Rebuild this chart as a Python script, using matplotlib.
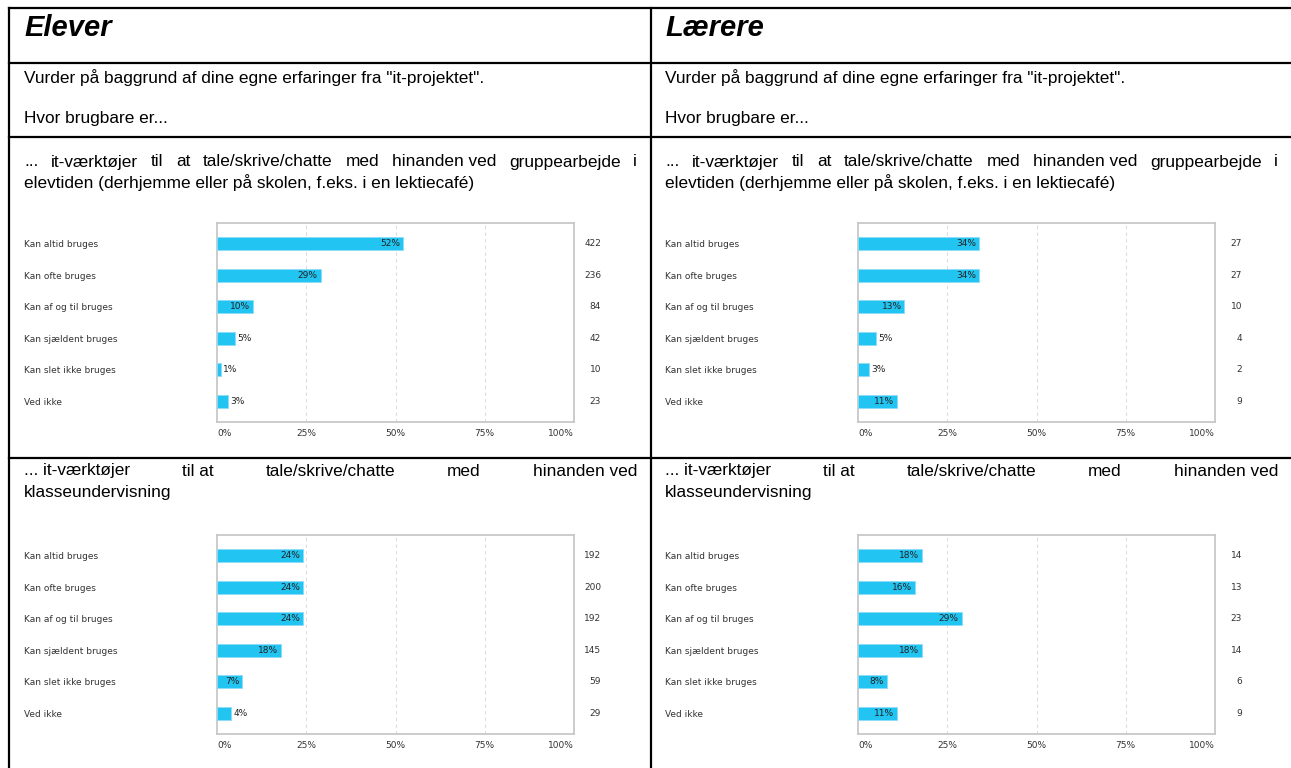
import matplotlib
matplotlib.use("Agg")
import matplotlib.pyplot as plt
from matplotlib.lines import Line2D

# svarkategorier
kategorier = ["Kan altid bruges", "Kan ofte bruges", "Kan af og til bruges",
              "Kan sjældent bruges", "Kan slet ikke bruges", "Ved ikke"]

# gruppearbejde i elevtiden
elever_gruppe_pct = [52, 29, 10, 5, 1, 3]
elever_gruppe_n = [422, 236, 84, 42, 10, 23]
laerere_gruppe_pct = [34, 34, 13, 5, 3, 11]
laerere_gruppe_n = [27, 27, 10, 4, 2, 9]

# klasseundervisning
elever_klasse_pct = [24, 24, 24, 18, 7, 4]
elever_klasse_n = [192, 200, 192, 145, 59, 29]
laerere_klasse_pct = [18, 16, 29, 18, 8, 11]
laerere_klasse_n = [14, 13, 23, 14, 6, 9]

x_ticks = [0, 25, 50, 75, 100]
x_ticklabels = ["0%", "25%", "50%", "75%", "100%"]

W, H = 1291, 768
fig = plt.figure(figsize=(W / 100, H / 100), dpi=100)
fig.patch.set_facecolor("white")

TXT = "Liberation Sans"
FS = 12.4
BAR = "#22c4f2"


def fx(x):
    return x / W


def fy(y):
    return 1 - y / H


def hline(y, x0, x1):
    fig.add_artist(Line2D([fx(x0), fx(x1)], [fy(y), fy(y)], color="black", lw=1.6,
                          transform=fig.transFigure))


def vline(x, y0, y1):
    fig.add_artist(Line2D([fx(x), fx(x)], [fy(y0), fy(y1)], color="black", lw=1.6,
                          transform=fig.transFigure))


def justify(words, x0, x1, y, **kw):
    texts = [fig.text(0, fy(y), w, va="center", ha="left", **kw) for w in words]
    r = fig.canvas.get_renderer()
    widths = [t.get_window_extent(r).width for t in texts]
    gap = (x1 - x0 - sum(widths)) / (len(words) - 1)
    x = x0
    for t, w in zip(texts, widths):
        t.set_x(fx(x))
        x += w + gap


def chart(x0, y0, pct, n):
    ax = fig.add_axes([fx(x0), fy(y0 + 199), 357 / W, 199 / H])
    y = list(range(len(kategorier)))
    ax.barh(y, pct, height=0.42, color=BAR, edgecolor="#8edcf6", lw=0.6, zorder=3)
    ax.set_xlim(0, 100)
    ax.set_ylim(5.66, -0.66)
    ax.set_xticks(x_ticks)
    ax.set_xticklabels(x_ticklabels, fontsize=6.5, color="#333333")
    xl = ax.get_xticklabels()
    xl[0].set_ha("left")
    xl[-1].set_ha("right")
    ax.set_yticks(y)
    ax.set_yticklabels(kategorier, fontsize=6.5, color="#333333", ha="left")
    ax.tick_params(axis="y", length=0, pad=139)
    ax.tick_params(axis="x", length=0, pad=5)
    for v in [25, 50, 75]:
        ax.axvline(v, color="#dcdcdc", lw=0.8, ls=(0, (3, 3)), zorder=1)
    for s in ax.spines.values():
        s.set_color("#c4c4c4")
        s.set_linewidth(1.2)
    for i, (p, c) in enumerate(zip(pct, n)):
        if p >= 7:
            ax.annotate(f"{p}%", (p, i), xytext=(-2, 0), textcoords="offset points",
                        ha="right", va="center", fontsize=6.5, color="#222222", zorder=4)
        else:
            ax.annotate(f"{p}%", (p, i), xytext=(2, 0), textcoords="offset points",
                        ha="left", va="center", fontsize=6.5, color="#222222", zorder=4)
        ax.text(1.0756, i, str(c), transform=ax.get_yaxis_transform(),
                ha="right", va="center", fontsize=6.5, color="#333333")
    return ax


# tabelrammer
hline(8, 9, W)
hline(63, 9, W)
hline(137, 9, W)
hline(458, 9, W)
vline(9, 8, H)
vline(651, 8, H)

for x0, x1, titel, pg, ng, pk, nk in [
        (24, 637, "Elever", elever_gruppe_pct, elever_gruppe_n, elever_klasse_pct, elever_klasse_n),
        (665, 1278, "Lærere", laerere_gruppe_pct, laerere_gruppe_n, laerere_klasse_pct, laerere_klasse_n)]:
    fig.text(fx(x0), fy(28), titel, fontsize=21, fontweight="bold", fontstyle="italic",
             family=TXT, va="center", ha="left")
    fig.text(fx(x0), fy(78), 'Vurder på baggrund af dine egne erfaringer fra "it-projektet".',
             fontsize=FS, family=TXT, va="center", ha="left")
    fig.text(fx(x0), fy(118), "Hvor brugbare er...", fontsize=FS, family=TXT,
             va="center", ha="left")
    justify(["...", "it-værktøjer", "til", "at", "tale/skrive/chatte", "med",
             "hinanden ved", "gruppearbejde", "i"], x0, x1, 162, fontsize=FS, family=TXT)
    fig.text(fx(x0), fy(183), "elevtiden (derhjemme eller på skolen, f.eks. i en lektiecafé)",
             fontsize=FS, family=TXT, va="center", ha="left")
    justify(["... it-værktøjer", "til at", "tale/skrive/chatte", "med", "hinanden ved"],
            x0, x1, 471, fontsize=FS, family=TXT)
    fig.text(fx(x0), fy(492), "klasseundervisning", fontsize=FS, family=TXT,
             va="center", ha="left")
    chart(x0 + 193, 223, pg, ng)
    chart(x0 + 193, 535, pk, nk)

fig.savefig("out.png", dpi=100)
